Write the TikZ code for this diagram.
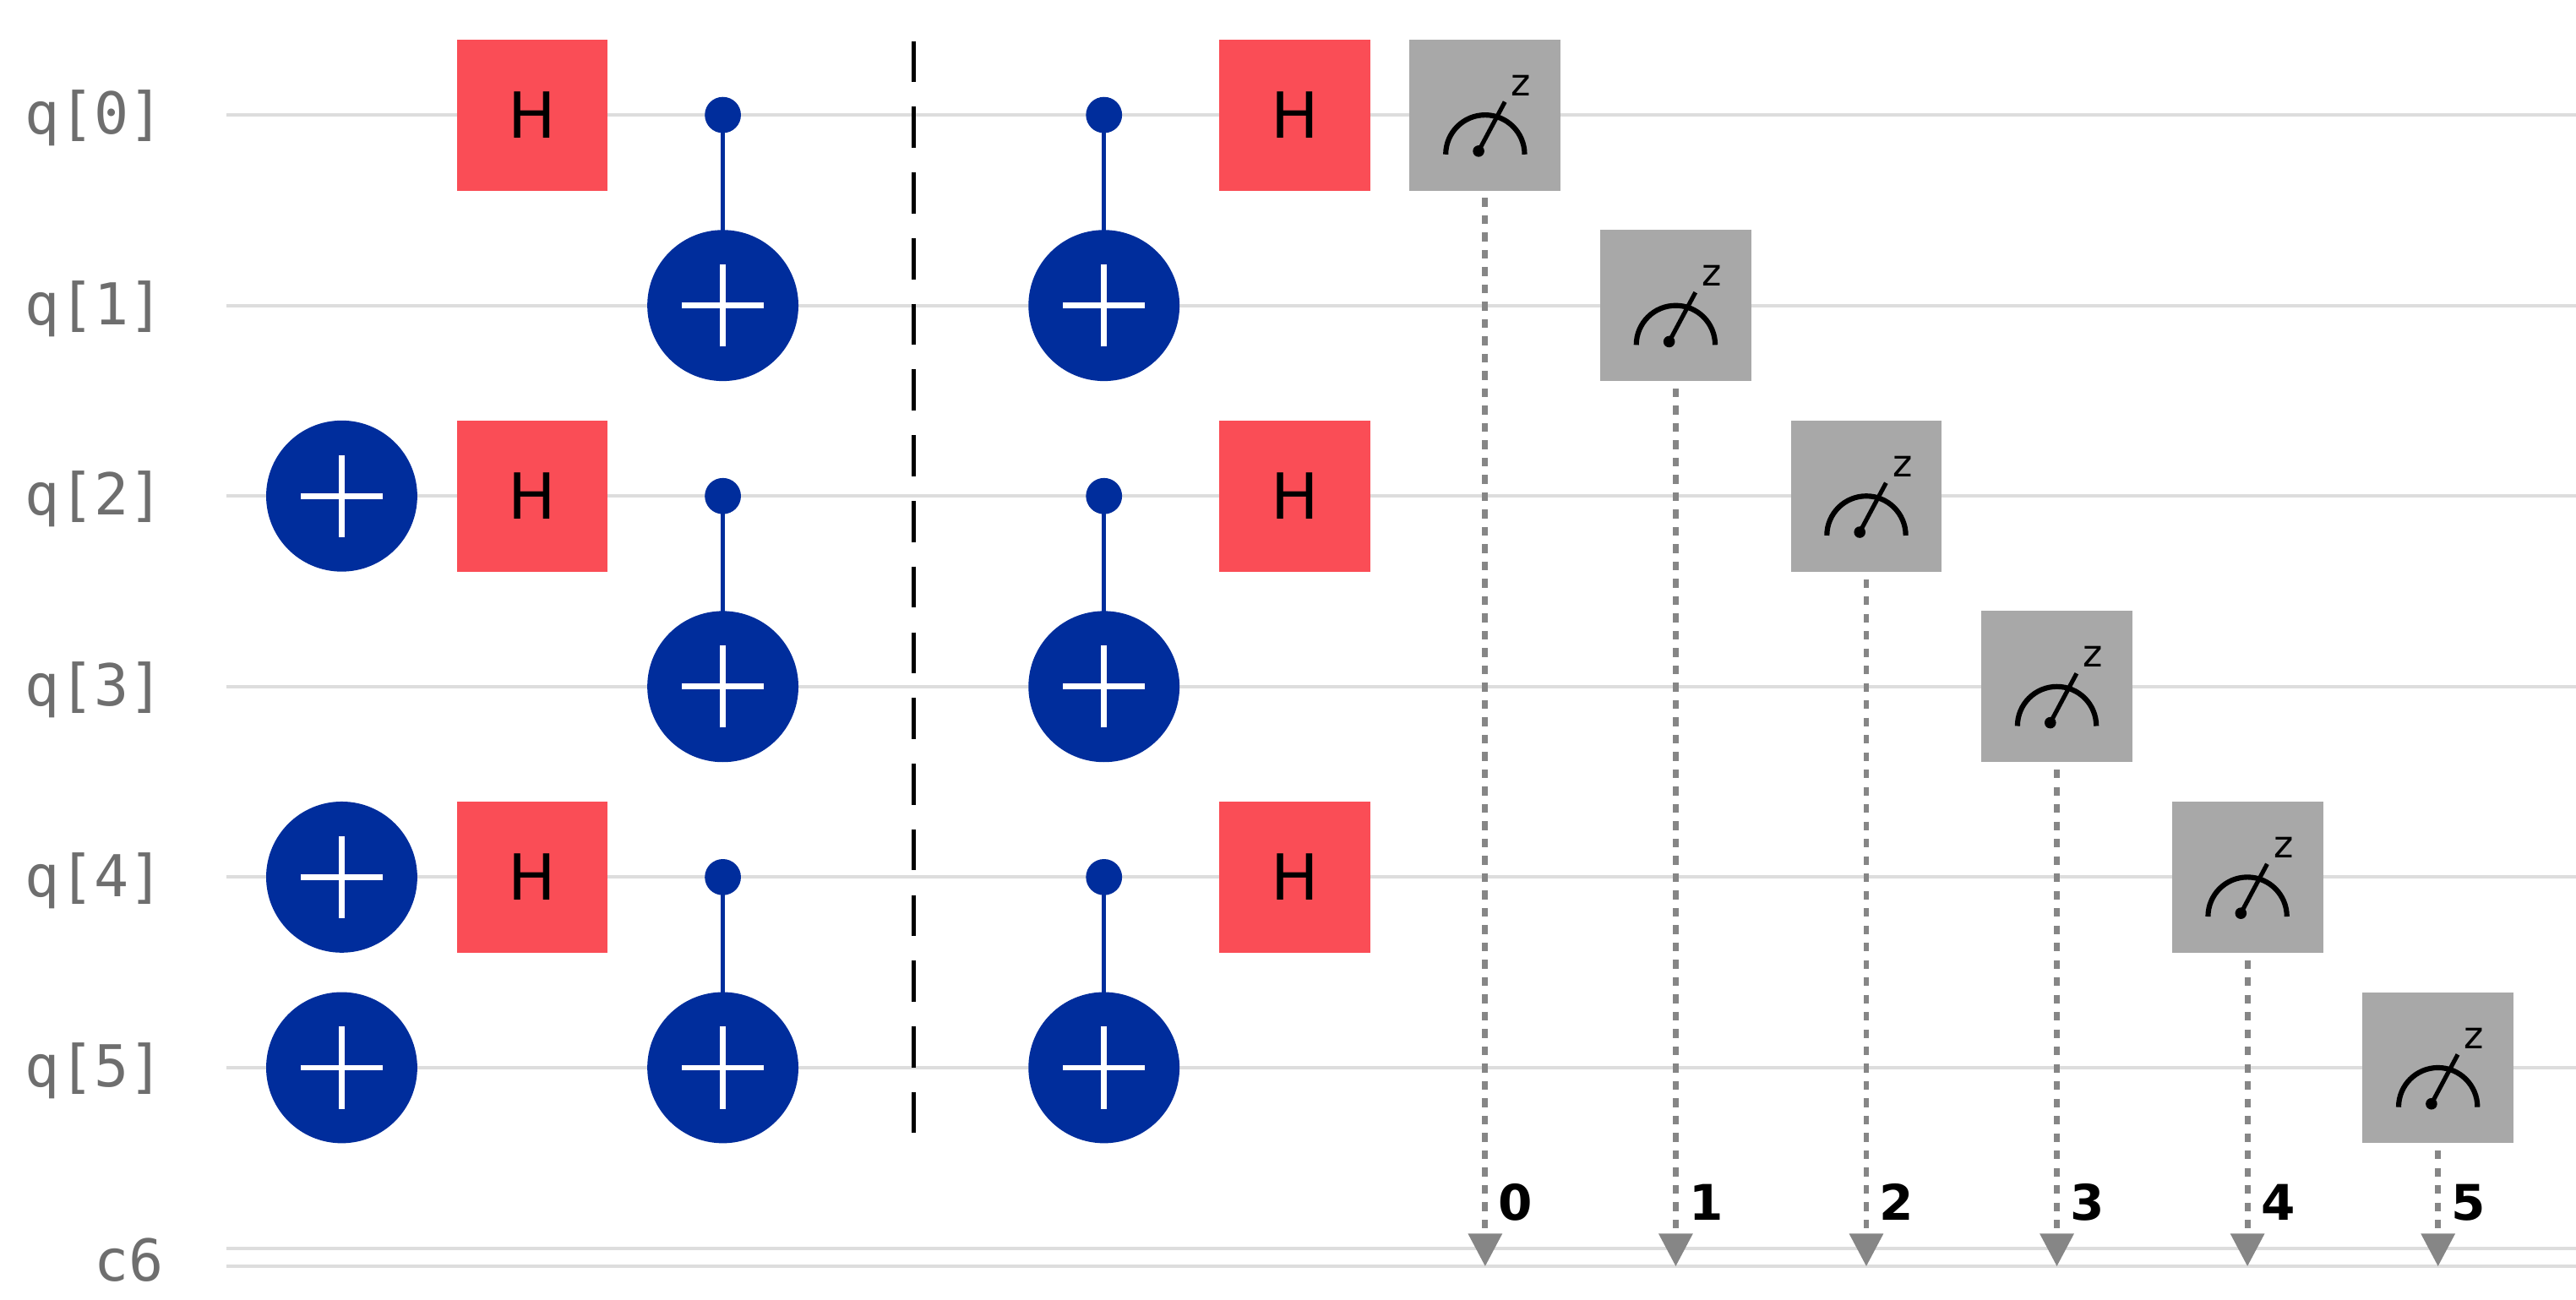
\documentclass[tikz,border=0pt]{standalone}
\usepackage{fontspec}
\setmainfont{DejaVu Sans}
\newfontfamily\monofont{DejaVu Sans Mono}
\usetikzlibrary{arrows.meta}
\definecolor{wire}{RGB}{221,221,221}
\definecolor{hred}{RGB}{250,77,86}
\definecolor{xblue}{RGB}{0,45,156}
\definecolor{mgray}{RGB}{168,168,168}
\definecolor{lblgray}{RGB}{110,110,110}
\begin{document}
\begin{tikzpicture}[x=0.02cm,y=-0.02cm,
    qlabel/.style={anchor=east,font=\monofont\fontsize{20}{20}\selectfont,text=lblgray},
    hgate/.style={fill=hred,minimum size=1.84cm,inner sep=0,font=\fontsize{22}{22}\selectfont},
    target/.style={circle,fill=xblue,minimum size=1.84cm,inner sep=0},
    ctrl/.style={circle,fill=xblue,minimum size=0.44cm,inner sep=0},
    meas/.style={fill=mgray,minimum size=1.84cm,inner sep=0},
    cbit/.style={font=\bfseries\fontsize{17}{17}\selectfont,anchor=west}]
  \useasboundingbox (0,0) rectangle (1568,791);
  % wires
  \foreach \i in {0,...,5} {
    \draw[wire,line width=1.2pt] (138,70+116*\i) -- (1568,70+116*\i);
    \node[qlabel] (q\i) at (106,72+116*\i) {q[\i]};
  }
  \draw[wire,line width=1.2pt] (138,760) -- (1568,760);
  \draw[wire,line width=1.2pt] (138,771) -- (1568,771);
  \node[qlabel] (c6) at (106,767) {c6};
  % single gates
  \foreach \i/\x in {2/208,4/208,5/208} \node[target] (x\i) at (\x,70+116*\i) {};
  \foreach \i in {0,2,4} {
    \node[hgate] (ha\i) at (324,70+116*\i) {H};
    \node[hgate] (hb\i) at (788,70+116*\i) {H};
  }
  % cnots
  \foreach \c/\t in {0/1,2/3,4/5} {
    \node[ctrl] (ca\c) at (440,70+116*\c) {};
    \node[target] (ta\t) at (440,70+116*\t) {};
    \draw[xblue,line width=1.5pt] (ca\c.center) -- (ta\t.center);
    \node[ctrl] (cb\c) at (672,70+116*\c) {};
    \node[target] (tb\t) at (672,70+116*\t) {};
    \draw[xblue,line width=1.5pt] (cb\c.center) -- (tb\t.center);
  }
  % plus signs
  \foreach \n in {x2,x4,x5,ta1,ta3,ta5,tb1,tb3,tb5}
    \draw[white,line width=2pt] ([xshift=-0.5cm]\n.center) -- ([xshift=0.5cm]\n.center)
      ([yshift=-0.5cm]\n.center) -- ([yshift=0.5cm]\n.center);
  % barrier
  \coordinate (b0) at (556,25);
  \coordinate (b1) at (556,695);
  \draw[line width=1.5pt,dash pattern=on 0.5cm off 0.3cm] (b0) -- (b1);
  % measurements
  \foreach \i in {0,...,5} {
    \coordinate (k\i) at (904+116*\i,771);
    \draw[mgray!80!black,line width=2pt,dash pattern=on 3pt off 3pt,-{Triangle[length=0.4cm,width=0.4cm]}]
      (904+116*\i,110+116*\i) -- (k\i);
    \node[meas] (m\i) at (904+116*\i,70+116*\i) {};
    \draw[line width=1.8pt] ([shift={(-24,24)}]m\i.center) arc (180:360:24);
    \draw[line width=1.5pt] ([shift={(-4,22)}]m\i.center) -- ([shift={(12,-8)}]m\i.center);
    \fill ([shift={(-4,22)}]m\i.center) circle (0.07cm);
    \node[font=\fontsize{13}{13}\selectfont,inner sep=0] at ([shift={(22,-18)}]m\i.center) {z};
    \node[cbit] (l\i) at (906+116*\i,732) {\i};
  }
\end{tikzpicture}
\end{document}
